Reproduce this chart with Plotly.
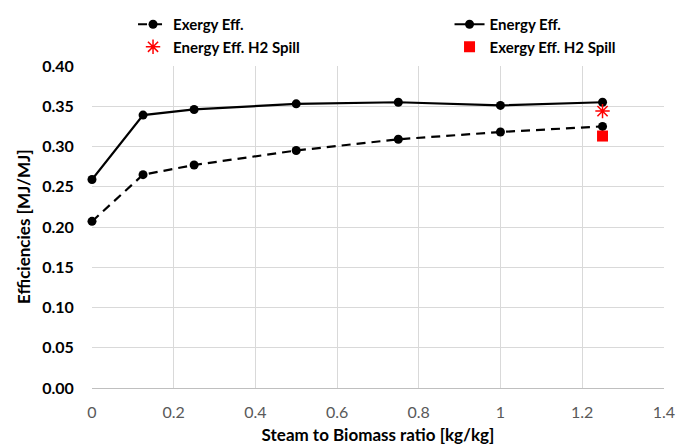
import plotly.graph_objects as go

x_ratio = [0, 0.125, 0.25, 0.5, 0.75, 1.0, 1.25]
exergy_eff = [0.207, 0.265, 0.277, 0.295, 0.309, 0.318, 0.325]
energy_eff = [0.259, 0.339, 0.346, 0.353, 0.355, 0.351, 0.355]
spill_x = [1.25]
energy_spill = [0.344]
exergy_spill = [0.313]
x_ticks = [0, 0.2, 0.4, 0.6, 0.8, 1.0, 1.2, 1.4]
x_ticktext = ["0", "0.2", "0.4", "0.6", "0.8", "1", "1.2", "1.4"]
x_title = "Steam to Biomass ratio [kg/kg]"
y_title = "Efficiencies [MJ/MJ]"

FONT = "Lato"

fig = go.Figure()
fig.add_trace(go.Scatter(x=x_ratio, y=exergy_eff, mode="lines+markers", name="Exergy Eff.",
                         legend="legend", cliponaxis=False,
                         line=dict(color="black", width=2.2, dash="9px,6px"),
                         marker=dict(color="black", size=9, symbol="circle")))
fig.add_trace(go.Scatter(x=x_ratio, y=energy_eff, mode="lines+markers", name="Energy Eff.",
                         legend="legend2", cliponaxis=False,
                         line=dict(color="black", width=2.2),
                         marker=dict(color="black", size=9, symbol="circle")))
fig.add_trace(go.Scatter(x=spill_x, y=energy_spill, mode="markers", name="Energy Eff. H2 Spill",
                         legend="legend", cliponaxis=False,
                         marker=dict(color="red", size=12, symbol="asterisk-open",
                                     line=dict(color="red", width=1.5))))
fig.add_trace(go.Scatter(x=spill_x, y=exergy_spill, mode="markers", name="Exergy Eff. H2 Spill",
                         legend="legend2", cliponaxis=False,
                         marker=dict(color="red", size=11, symbol="square")))

legend_common = dict(orientation="v", yref="container", xref="container",
                     xanchor="left", yanchor="top", tracegroupgap=0,
                     font=dict(family=FONT, size=15, color="black", weight="bold"),
                     bgcolor="rgba(0,0,0,0)")

fig.update_layout(
    width=677, height=445,
    margin=dict(l=92, r=13, t=66, b=57, autoexpand=False),
    paper_bgcolor="white", plot_bgcolor="white",
    font=dict(family=FONT, size=14, color="black"),
    legend=dict(x=0.1965, y=0.982, **legend_common),
    legend2=dict(x=0.664, y=0.982, **legend_common),
    showlegend=True,
)
fig.add_annotation(text=y_title, textangle=-90, xref="paper", yref="paper",
                   x=0, y=0.5, xshift=-69, xanchor="center", yanchor="middle",
                   showarrow=False, font=dict(family=FONT, size=17, color="black", weight="bold"))
fig.update_xaxes(range=[0, 1.4005], tickvals=x_ticks, ticktext=x_ticktext, automargin=True,
                 showgrid=True, gridcolor="#d9d9d9", gridwidth=1,
                 showline=True, linecolor="#bfbfbf", zeroline=False,
                 ticks="outside", ticklen=10, tickcolor="rgba(0,0,0,0)",
                 ticklabeloverflow="allow",
                 tickfont=dict(size=16, color="#595959"),
                 title=dict(text=x_title, standoff=8,
                            font=dict(size=17, weight="bold", color="black")))
fig.update_yaxes(range=[0, 0.4], dtick=0.05, tickformat=".2f", automargin=True,
                 showgrid=True, gridcolor="#d9d9d9", gridwidth=1,
                 zeroline=False, showline=False,
                 ticks="outside", ticklen=14, tickcolor="rgba(0,0,0,0)",
                 tickfont=dict(size=16, color="black", weight="bold"))

fig.write_html("out.html", config={"displayModeBar": False},
               post_script="document.body.style.margin='0';document.body.style.overflow='hidden';")
